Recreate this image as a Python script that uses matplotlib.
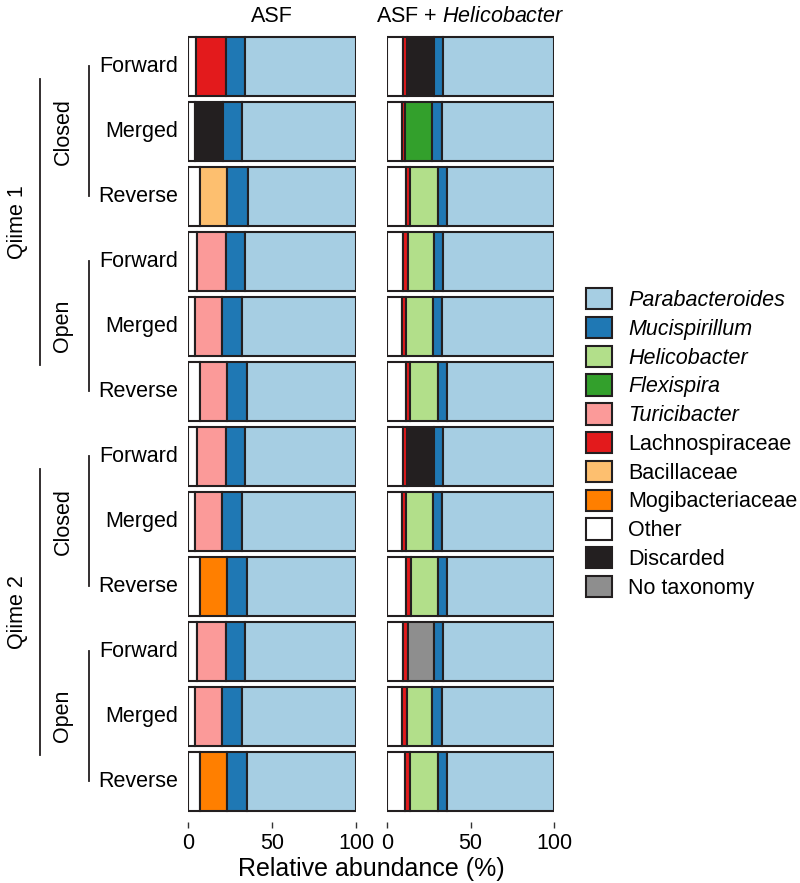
import numpy as np
import matplotlib.pyplot as plt
from matplotlib.patches import Patch
from matplotlib.transforms import blended_transform_factory

plt.rcParams['font.family'] = ['Liberation Sans', 'DejaVu Sans']
plt.rcParams['mathtext.fontset'] = 'custom'
plt.rcParams['mathtext.rm'] = 'Liberation Sans'
plt.rcParams['mathtext.it'] = 'Liberation Sans:italic'

# row labels, top to bottom
reads = ['Forward', 'Merged', 'Reverse'] * 4
picking = ['Closed', 'Open', 'Closed', 'Open']
pipelines = ['Qiime 1', 'Qiime 2']

# taxa in stacking order (left to right in each bar)
stack_order = [
    'Other', 'Lachnospiraceae', 'Bacillaceae', 'Mogibacteriaceae',
    'Turicibacter', 'Discarded', 'No taxonomy', 'Flexispira',
    'Helicobacter', 'Mucispirillum', 'Parabacteroides',
]
legend_order = [
    'Parabacteroides', 'Mucispirillum', 'Helicobacter', 'Flexispira',
    'Turicibacter', 'Lachnospiraceae', 'Bacillaceae', 'Mogibacteriaceae',
    'Other', 'Discarded', 'No taxonomy',
]
italic_taxa = ['Parabacteroides', 'Mucispirillum', 'Helicobacter',
               'Flexispira', 'Turicibacter']
colors = {
    'Parabacteroides': '#a6cee3',
    'Mucispirillum': '#1f78b4',
    'Helicobacter': '#b2df8a',
    'Flexispira': '#33a02c',
    'Turicibacter': '#fb9a99',
    'Lachnospiraceae': '#e31a1c',
    'Bacillaceae': '#fdbf6f',
    'Mogibacteriaceae': '#ff7f00',
    'Other': '#ffffff',
    'Discarded': '#231f20',
    'No taxonomy': '#8e8e8e',
}

z = [0.0] * 12

# relative abundance (%) per row, ASF
asf = {
    'Other': [4.8, 4.0, 7.1, 5.1, 4.4, 7.3, 5.1, 4.4, 7.1, 5.3, 4.4, 7.1],
    'Lachnospiraceae': [17.9, 0, 0, 0, 0, 0, 0, 0, 0, 0, 0, 0],
    'Bacillaceae': [0, 0, 16.1, 0, 0, 0, 0, 0, 0, 0, 0, 0],
    'Mogibacteriaceae': [0, 0, 0, 0, 0, 0, 0, 0, 16.1, 0, 0, 16.3],
    'Turicibacter': [0, 0, 0, 17.7, 16.0, 16.1, 17.7, 16.0, 0, 17.3, 15.8, 0],
    'Discarded': [0, 16.8, 0, 0, 0, 0, 0, 0, 0, 0, 0, 0],
    'No taxonomy': z,
    'Flexispira': z,
    'Helicobacter': z,
    'Mucispirillum': [11.3, 11.2, 12.4, 11.3, 11.7, 12.0, 11.3, 11.7, 12.2,
                      11.4, 11.9, 12.0],
    'Parabacteroides': [66.0, 68.0, 64.4, 65.9, 67.9, 64.6, 65.9, 67.9,
                        64.6, 66.0, 67.9, 64.6],
}

# relative abundance (%) per row, ASF + Helicobacter
asf_helico = {
    'Other': [9.7, 8.9, 11.1, 9.3, 8.9, 11.1, 9.3, 8.9, 11.1, 9.3, 8.9, 10.9],
    'Lachnospiraceae': [2.4, 1.8, 2.8, 3.0, 2.6, 2.8, 2.4, 2.6, 3.0, 3.0,
                        2.8, 3.0],
    'Bacillaceae': z,
    'Mogibacteriaceae': z,
    'Turicibacter': z,
    'Discarded': [15.9, 0, 0, 0, 0, 0, 16.3, 0, 0, 0, 0, 0],
    'No taxonomy': [0, 0, 0, 0, 0, 0, 0, 0, 0, 15.7, 0, 0],
    'Flexispira': [0, 16.1, 0, 0, 0, 0, 0, 0, 0, 0, 0, 0],
    'Helicobacter': [0, 0, 16.5, 15.9, 15.9, 16.7, 0, 15.9, 16.5, 0, 15.5,
                     16.5],
    'Mucispirillum': [5.5, 5.9, 5.5, 5.3, 5.5, 5.3, 5.7, 5.5, 5.3, 5.5, 5.5,
                      5.5],
    'Parabacteroides': [66.5, 67.3, 64.1, 66.5, 67.1, 64.1, 66.3, 67.1,
                        64.1, 66.5, 67.3, 64.1],
}

edge = '#231f20'

fig = plt.figure(figsize=(8.0, 8.83), dpi=100)
ax_l = fig.add_axes([0.235, 0.0786, 0.2100, 0.8831])
ax_r = fig.add_axes([0.4838, 0.0786, 0.2087, 0.8831])


def draw_panel(ax, table):
    y = np.arange(len(reads))
    left = np.zeros(len(reads))
    for taxon in stack_order:
        vals = np.array(table[taxon], dtype=float)
        mask = vals > 0
        if mask.any():
            ax.barh(y[mask], vals[mask], left=left[mask], height=0.91,
                    color=colors[taxon], edgecolor=edge, linewidth=1.5)
        left += vals
    ax.set_xlim(0, 100)
    ax.set_ylim(len(reads) - 0.5, -0.5)
    ax.set_yticks([])
    ax.set_xticks([0, 50, 100])
    ax.tick_params(axis='x', labelsize=15.5, length=4, width=1, pad=4,
                   color='#333333')
    for s in ['top', 'right', 'left']:
        ax.spines[s].set_visible(False)
    ax.spines['bottom'].set_position(('outward', 6))
    ax.spines['bottom'].set_color('none')


draw_panel(ax_l, asf)
draw_panel(ax_r, asf_helico)

fig.text(272 / 800, 1 - 16 / 883, 'ASF', fontsize=15.5, ha='center',
         va='center')
fig.text(470 / 800, 1 - 16 / 883, 'ASF + $\\mathit{Helicobacter}$',
         fontsize=15.5, ha='center', va='center')
fig.text(371 / 800, 1 - 869 / 883, 'Relative abundance (%)', fontsize=18,
         ha='center', va='center')

# hierarchical row labels
tr = blended_transform_factory(fig.transFigure, ax_l.transData)
for i, lab in enumerate(reads):
    fig.text(178 / 800, i, lab, transform=tr, fontsize=15.5, ha='right',
             va='center')

for g, name in enumerate(picking):
    y0, y1 = g * 3, g * 3 + 2
    fig.add_artist(plt.Line2D([89 / 800, 89 / 800], [y0, y1], transform=tr,
                              color='#231f20', linewidth=1.3))
    fig.text(63 / 800, (y0 + y1) / 2, name, transform=tr, fontsize=15.5,
             rotation=90, ha='center', va='center')

for p, name in enumerate(pipelines):
    y0 = p * 6 + 0.2
    y1 = p * 6 + 4.6
    fig.add_artist(plt.Line2D([40 / 800, 40 / 800], [y0, y1], transform=tr,
                              color='#231f20', linewidth=1.3))
    fig.text(17 / 800, p * 6 + 2.4, name, transform=tr, fontsize=15.5,
             rotation=90, ha='center', va='center')

handles = [Patch(facecolor=colors[t], edgecolor=edge, linewidth=1.5)
           for t in legend_order]
leg = fig.legend(handles, legend_order, loc='upper left',
                 bbox_to_anchor=(586 / 800, 1 - 288 / 883), frameon=False,
                 fontsize=15.5, handlelength=1.2, handleheight=1.15,
                 handletextpad=0.75, labelspacing=0.27, borderpad=0,
                 borderaxespad=0)
for txt in leg.get_texts():
    if txt.get_text() in italic_taxa:
        txt.set_style('italic')

fig.savefig('out.png', dpi=100)
